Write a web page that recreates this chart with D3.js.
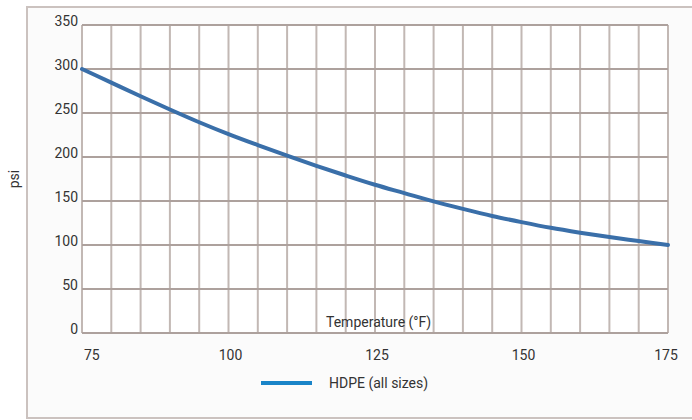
<!DOCTYPE html>
<html><head><meta charset="utf-8">
<script src="https://cdn.jsdelivr.net/npm/d3@7"></script>
<style>body{margin:0;background:#fff}svg{display:block}text{font-family:Roboto,"DejaVu Sans",sans-serif}</style>
</head><body>
<svg id="c" width="692" height="420"></svg>
<script>
const temps = [75,80,85,90,95,100,105,110,115,120,125,130,135,140,145,150,155,160,165,170,175];
const psi   = [300,284.5,269,254,239.5,226,213.5,201.5,190,179,168.5,159,149.5,141,133,126,119.5,114,109,104.5,100];
const xTicks = [75,100,125,150,175];
const yTicks = [0,50,100,150,200,250,300,350];
const seriesName = "HDPE (all sizes)";
const xTitle = "Temperature (°F)";
const yTitle = "psi";

const svg = d3.select("#c");
const L=82, R=668, T=25, B=333;
const x = d3.scaleLinear().domain([75,175]).range([L,R]);
const y = d3.scaleLinear().domain([0,350]).range([B,T]);

// frame
svg.append("rect").attr("x",27).attr("y",7).attr("width",680).attr("height",411)
  .attr("fill","#fbfbfb").attr("stroke","#cbc2bf").attr("stroke-width",2);
svg.append("rect").attr("x",L).attr("y",T).attr("width",R-L).attr("height",B-T).attr("fill","#fff");

// vertical grid every 5
svg.append("g").selectAll("line").data(d3.range(75,176,5)).join("line")
  .attr("x1",d=>x(d)).attr("x2",d=>x(d)).attr("y1",T).attr("y2",B)
  .attr("stroke","#c2b8b4").attr("stroke-width",2);
// horizontal grid
svg.append("g").selectAll("line").data(yTicks).join("line")
  .attr("x1",L).attr("x2",R).attr("y1",d=>y(d)).attr("y2",d=>y(d))
  .attr("stroke","#ada19d").attr("stroke-width",2);

// y tick labels
svg.append("g").selectAll("text").data(yTicks).join("text")
  .attr("x",78).attr("y",d=>y(d)).attr("dy","0.1em").attr("text-anchor","end")
  .attr("font-size",14).attr("fill","#333").text(d=>d);
// x tick labels
svg.append("g").selectAll("text").data(xTicks).join("text")
  .attr("x",(d,i)=> i===0 ? x(d)+2 : (i===xTicks.length-1 ? x(d)-2 : x(d)+2))
  .attr("y",360)
  .attr("text-anchor",(d,i)=> i===0 ? "start" : "middle")
  .attr("font-size",14).attr("fill","#333").text(d=>d);

// axis titles
svg.append("text").attr("x",326).attr("y",327).attr("font-size",14).attr("fill","#333").text(xTitle);
svg.append("text").attr("transform","translate(19,179) rotate(-90)").attr("text-anchor","middle")
  .attr("font-size",14).attr("fill","#333").text(yTitle);

// curve
const line = d3.line().x((d,i)=>x(temps[i])).y(d=>y(d)).curve(d3.curveMonotoneX);
svg.append("path").attr("d",line(psi)).attr("fill","none")
  .attr("stroke","#3a6fa9").attr("stroke-width",4).attr("stroke-linecap","round");

// legend
svg.append("line").attr("x1",261).attr("x2",312).attr("y1",383).attr("y2",383)
  .attr("stroke","#1a84c8").attr("stroke-width",4);
svg.append("text").attr("x",329).attr("y",388).attr("font-size",14).attr("fill","#333").text(seriesName);
</script>
</body></html>
